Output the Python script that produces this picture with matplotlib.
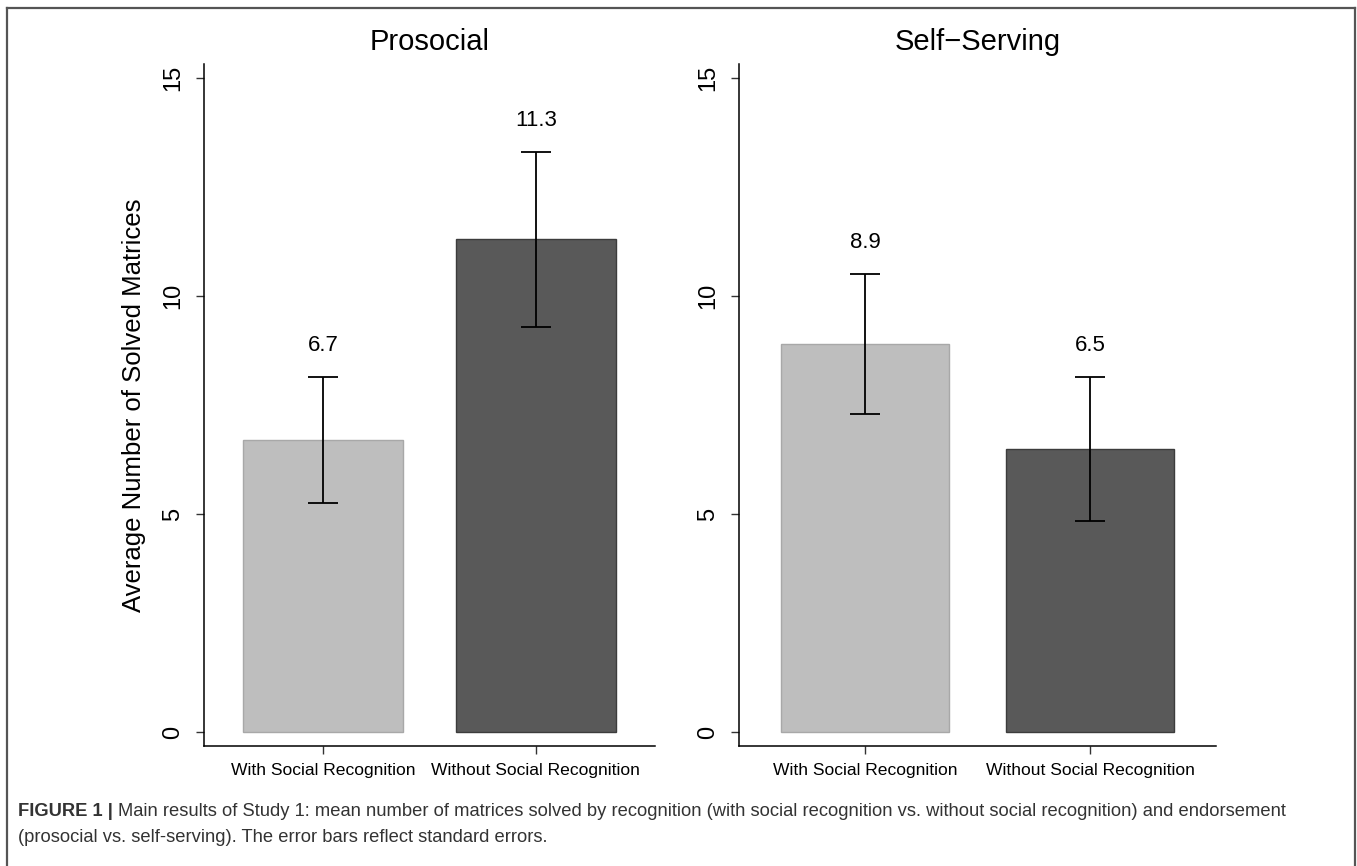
import numpy as np
import matplotlib.pyplot as plt
from matplotlib.lines import Line2D

plt.rcParams['font.family'] = ['Liberation Sans', 'DejaVu Sans']

panels = ["Prosocial", "Self\u2212Serving"]
conditions = ["With Social Recognition", "Without Social Recognition"]
means = [[6.7, 11.3], [8.9, 6.5]]
ses = [[1.45, 2.0], [1.6, 1.65]]
bar_colors = ["#bebebe", "#595959"]
edge_colors = ["#a8a8a8", "#3c3c3c"]

fig = plt.figure(figsize=(13.57, 8.66), dpi=100)

axes_pos = [
    [204 / 1357, 120 / 866, 451 / 1357, 682 / 866],
    [739 / 1357, 120 / 866, 477 / 1357, 682 / 866],
]

for i, title in enumerate(panels):
    ax = fig.add_axes(axes_pos[i])
    x = np.arange(len(conditions))
    ax.bar(x, means[i], width=0.75, color=bar_colors, edgecolor=edge_colors, linewidth=1)
    ax.errorbar(x, means[i], yerr=ses[i], fmt='none', ecolor='black',
                elinewidth=1.3, capsize=11, capthick=1.3)
    for xi, m, s in zip(x, means[i], ses[i]):
        ax.text(xi, m + s + 0.72, f"{m:.1f}", ha='center', va='center', fontsize=16)
    ax.set_xlim(-0.56, 1.56)
    ax.set_ylim(-0.32, 15.32)
    ax.set_xticks(x)
    ax.set_xticklabels(conditions, fontsize=12.6)
    ax.set_yticks([0, 5, 10, 15])
    ax.set_yticklabels(["0", "5", "10", "15"], fontsize=17, rotation=90, va='center')
    ax.tick_params(axis='both', length=6, width=1, color='#333333', pad=6)
    ax.tick_params(axis='y', pad=8)
    for side in ['top', 'right']:
        ax.spines[side].set_visible(False)
    for side in ['left', 'bottom']:
        ax.spines[side].set_linewidth(1.1)
    ax.set_title(title, fontsize=21, pad=10)
    if i == 0:
        ax.set_ylabel("Average Number of Solved Matrices", fontsize=18.5, labelpad=12)

# frame around the figure (top, left, right)
W, H = 1357, 866
for xs, ys in [([7, 1355], [8, 8]), ([7, 7], [8, 866]), ([1355, 1355], [8, 866])]:
    fig.add_artist(Line2D([v / W for v in xs], [1 - v / H for v in ys],
                          transform=fig.transFigure, color='#555555', linewidth=1.6))

# caption
cap_color = '#333333'
cap_size = 13.2
bold = fig.text(18 / W, 1 - 812 / H, "FIGURE 1 |", fontsize=cap_size, fontweight='bold',
                color=cap_color, va='center', ha='left')
fig.canvas.draw()
bb = bold.get_window_extent()
x_next = (bb.x1 + 5) / W
fig.text(x_next, 1 - 812 / H,
         "Main results of Study 1: mean number of matrices solved by recognition "
         "(with social recognition vs. without social recognition) and endorsement",
         fontsize=cap_size, color=cap_color, va='center', ha='left')
fig.text(18 / W, 1 - 838 / H,
         "(prosocial vs. self-serving). The error bars reflect standard errors.",
         fontsize=cap_size, color=cap_color, va='center', ha='left')

fig.savefig("out.png", dpi=100)
